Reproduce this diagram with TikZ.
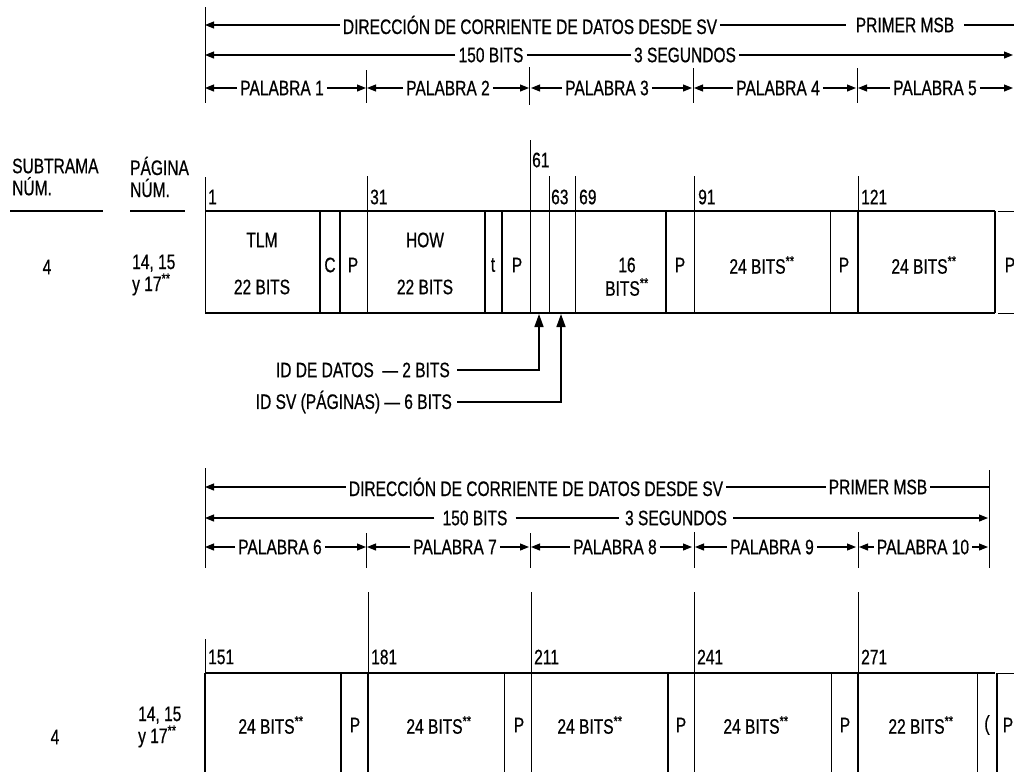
\documentclass[tikz,border=0pt]{standalone}
\usepackage{fontspec}
\setmainfont{Liberation Sans}[FakeStretch=0.74,FakeBold=0.6]
\usetikzlibrary{arrows.meta}
\begin{document}
\begin{tikzpicture}[x=1pt,y=-1pt,
  txt/.style={font=\fontsize{21}{22}\selectfont, inner xsep=3pt, inner ysep=0pt},
  arr/.style={-{Triangle[length=9pt,width=7pt]}, line width=1.1pt},
  bigarr/.style={-{Triangle[length=13pt,width=9pt]}, line width=1.6pt},
  ln/.style={line width=1.1pt},
  thinl/.style={line width=0.9pt},
  thickl/.style={line width=1.9pt}]
\useasboundingbox (0,0) rectangle (1014,772);

% ================= TOP HEADER =================
\draw[thinl] (205,7) -- (205,103);
% row 1
\coordinate (h1L) at (205,25);
\coordinate (h1R) at (1014,25);
\node[txt] (h1a) at (530,25) {DIRECCIÓN DE CORRIENTE DE DATOS DESDE SV};
\node[txt,inner xsep=10pt] (h1b) at (905,25) {PRIMER MSB};
\draw[arr] (h1a) -- (h1L);
\draw[ln] (h1a) -- (h1b);
\draw[ln] (h1b) -- (h1R);
% row 2
\coordinate (h2L) at (205,55);
\coordinate (h2R) at (1013,55);
\node[txt] (h2a) at (491,55) {150 BITS};
\node[txt] (h2b) at (685,55) {3 SEGUNDOS};
\draw[arr] (h2a) -- (h2L);
\draw[ln] (h2a) -- (h2b);
\draw[arr] (h2b) -- (h2R);
% row 3 (words)
\foreach \x/\ya/\yb in {366/70/103, 529/67/105, 693/68/103, 857/68/103}
  \draw[thinl] (\x,\ya) -- (\x,\yb);
\foreach \n/\c/\l/\r in {1/282/205/366, 2/448/367/529, 3/607/531/692, 4/778/694/856, 5/935/858/1013}{
  \coordinate (wL\n) at (\l,88);
  \coordinate (wR\n) at (\r,88);
  \node[txt] (w\n) at (\c,88) {PALABRA \n};
  \draw[arr] (w\n) -- (wL\n);
  \draw[arr] (w\n) -- (wR\n);
}

% ================= TOP FRAME =================
\node[txt,align=left,anchor=west,inner xsep=0pt] (sub) at (12,177) {SUBTRAMA\\NÚM.};
\node[txt,align=left,anchor=west,inner xsep=0pt] (pag) at (130,177) {PÁGINA\\NÚM.};
\draw[ln] (10,211) -- (103,211);
\draw[ln] (130,211) -- (185,211);
\node[txt] (n4a) at (47,267) {4};
\node[txt,align=left,anchor=west,inner xsep=0pt] (pga) at (132,275) {14, 15\\y 17\textsuperscript{**}};

\draw[thickl] (205,211) -- (995,211);
\draw[thickl] (205,313) -- (995,313);
\draw[thinl] (998,211) -- (1014,211);
\draw[thinl] (998,313) -- (1014,313);
\foreach \x in {320,340,485,502,666,858,995}
  \draw[thickl] (\x,211) -- (\x,313);
\foreach \x in {205,367,530,549,575,694,830}
  \draw[thinl] (\x,211) -- (\x,313);
\foreach \x/\y in {205/177,367/176,530/140,549/176,575/176,694/176,858/176}
  \draw[thinl] (\x,\y) -- (\x,211);
% bit numbers
\foreach \x/\y/\t in {208/197/1, 370/197/31, 532/160/61, 551/197/63, 579/197/69, 698/197/91, 861/197/121}
  \node[txt,anchor=west,inner xsep=0pt] at (\x,\y) {\t};
% cell texts
\node[txt] (tlm) at (262,240) {TLM};
\node[txt] (tlmb) at (262,287) {22 BITS};
\node[txt] (cc) at (330,265) {C};
\node[txt] (p1) at (353,265) {P};
\node[txt] (how) at (425,240) {HOW};
\node[txt] (howb) at (425,287) {22 BITS};
\node[txt] (tt) at (493,265) {t};
\node[txt] (p2) at (517,265) {P};
\node[txt] (s16) at (627,265) {16};
\node[txt] (s16b) at (627,287) {BITS\textsuperscript{**}};
\node[txt] (p3) at (680,265) {P};
\node[txt] (b4) at (762,265) {24 BITS\textsuperscript{**}};
\node[txt] (p4) at (844,265) {P};
\node[txt] (b5) at (924,265) {24 BITS\textsuperscript{**}};
\node[txt] (p5) at (1010,265) {P};

% ID arrows
\node[txt,anchor=east,inner xsep=0pt] (id1) at (450,370) {ID DE DATOS \ — 2 BITS};
\node[txt,anchor=east,inner xsep=0pt] (id2) at (452,402) {ID SV (PÁGINAS) — 6 BITS};
\coordinate (a1) at (539,314);
\coordinate (a2) at (561,314);
\draw[bigarr] ([xshift=7pt]id1.east) -| (a1);
\draw[bigarr] ([xshift=5pt]id2.east) -| (a2);

% ================= BOTTOM HEADER =================
\draw[thinl] (205,468) -- (205,568);
\draw[thinl] (989,470) -- (989,568);
\coordinate (g1L) at (205,487);
\coordinate (g1R) at (989,487);
\node[txt] (g1a) at (536,487) {DIRECCIÓN DE CORRIENTE DE DATOS DESDE SV};
\node[txt] (g1b) at (878,487) {PRIMER MSB};
\draw[arr] (g1a) -- (g1L);
\draw[ln] (g1a) -- (g1b);
\draw[ln] (g1b) -- (g1R);
\coordinate (g2L) at (205,518);
\coordinate (g2R) at (988,518);
\node[txt,inner xsep=8pt] (g2a) at (475,518) {150 BITS};
\node[txt,inner xsep=6pt] (g2b) at (676,518) {3 SEGUNDOS};
\draw[arr] (g2a) -- (g2L);
\draw[ln] (g2a) -- (g2b);
\draw[arr] (g2b) -- (g2R);
\foreach \x/\ya/\yb in {366/533/568, 530/533/568, 694/532/568, 858/532/568}
  \draw[thinl] (\x,\ya) -- (\x,\yb);
\foreach \n/\c/\l/\r in {6/280/205/366, 7/455/367/529, 8/615/531/692, 9/772/695/856, 10/923/859/988}{
  \coordinate (vL\n) at (\l,547);
  \coordinate (vR\n) at (\r,547);
  \node[txt] (v\n) at (\c,547) {PALABRA \n};
  \draw[arr] (v\n) -- (vL\n);
  \draw[arr] (v\n) -- (vR\n);
}

% ================= BOTTOM FRAME =================
\node[txt] (n4b) at (55,737) {4};
\node[txt,align=left,anchor=west,inner xsep=0pt] (pgb) at (138,727) {14, 15\\y 17\textsuperscript{**}};
\draw[thickl] (205,673) -- (995,673);
\draw[thinl] (998,673) -- (1014,673);
\foreach \x in {205,341,368,668,858,997}
  \draw[thickl] (\x,673) -- (\x,772);
\foreach \x in {504,531,694,831,977}
  \draw[thinl] (\x,673) -- (\x,772);
\foreach \x/\y in {205/639,368/592,531/592,694/592,858/592}
  \draw[thinl] (\x,\y) -- (\x,673);
\foreach \x/\t in {208/151, 371/181, 534/211, 697/241, 861/271}
  \node[txt,anchor=west,inner xsep=0pt] at (\x,657) {\t};
\node[txt] (c1) at (271,725) {24 BITS\textsuperscript{**}};
\node[txt] (q1) at (355,725) {P};
\node[txt] (c2) at (439,725) {24 BITS\textsuperscript{**}};
\node[txt] (q2) at (519,725) {P};
\node[txt] (c3) at (590,725) {24 BITS\textsuperscript{**}};
\node[txt] (q3) at (681,725) {P};
\node[txt] (c4) at (756,725) {24 BITS\textsuperscript{**}};
\node[txt] (q4) at (845,725) {P};
\node[txt] (c5) at (921,725) {22 BITS\textsuperscript{**}};
\node[txt] (q5) at (987,725) {(};
\node[txt] (q6) at (1008,725) {P};
\end{tikzpicture}
\end{document}
